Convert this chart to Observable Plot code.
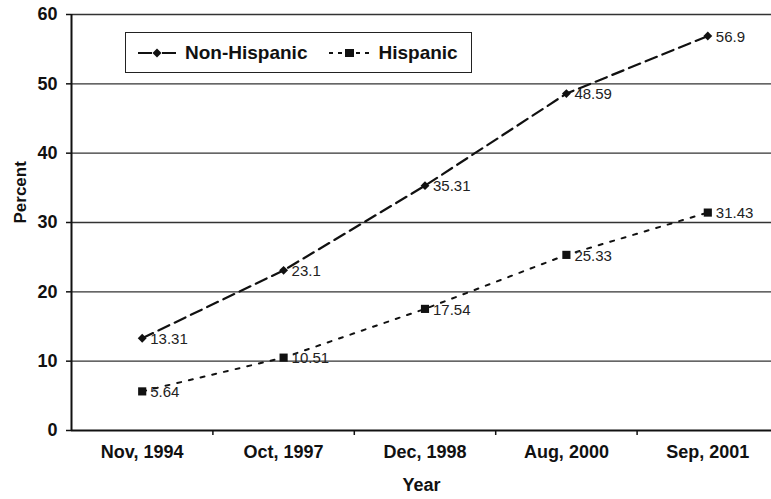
<!DOCTYPE html>
<html><head><meta charset="utf-8">
<script src="https://cdn.jsdelivr.net/npm/d3@7"></script>
<script src="https://cdn.jsdelivr.net/npm/@observablehq/plot@0.6"></script>
<style>
body{margin:0;background:#fff;font-family:"Liberation Sans",Arial,sans-serif;}
#wrap{position:relative;width:771px;height:499px;overflow:hidden;}
#legend{position:absolute;left:125px;top:32px;width:345px;height:39px;border:1.5px solid #222;background:#fff;display:flex;align-items:center;font-weight:bold;font-size:19px;color:#111;}
#legend .item{display:flex;align-items:center;}
#legend svg{display:block;}
</style>
</head><body>
<div id="wrap"></div>
<script>
const categories = ["Nov, 1994", "Oct, 1997", "Dec, 1998", "Aug, 2000", "Sep, 2001"];
const nonHispanic = [13.31, 23.1, 35.31, 48.59, 56.9];
const hispanic = [5.64, 10.51, 17.54, 25.33, 31.43];
const seriesNames = ["Non-Hispanic", "Hispanic"];
const yTicks = [0, 10, 20, 30, 40, 50, 60];

const rows = [];
categories.forEach((c, i) => {
  rows.push({cat: c, value: nonHispanic[i], series: seriesNames[0]});
  rows.push({cat: c, value: hispanic[i], series: seriesNames[1]});
});
const nh = rows.filter(d => d.series === seriesNames[0]);
const hs = rows.filter(d => d.series === seriesNames[1]);
const catPos = c => categories.indexOf(c) + 0.5;
const boundaries = d3.range(categories.length + 1);

const chart = Plot.plot({
  width: 771,
  height: 499,
  marginTop: 14,
  marginBottom: 69,
  marginLeft: 71,
  marginRight: 0,
  style: {fontFamily: "'Liberation Sans', Arial, sans-serif", background: "#fff", color: "#111", overflow: "visible"},
  x: {domain: [0, categories.length], range: [71, 778]},
  y: {domain: [0, 60]},
  marks: [
    Plot.ruleY(yTicks.filter(t => t > 0), {stroke: "#333", strokeWidth: 1.4, x1: 0, x2: categories.length}),
    Plot.axisY({ticks: yTicks, tickSize: 5, tickPadding: 9, label: null, fontSize: 18, fontWeight: "bold", stroke: "#111", strokeWidth: 1.5}),
    Plot.axisX({ticks: boundaries.slice(1), tickSize: 5, tickFormat: () => "", label: null, stroke: "#111", strokeWidth: 1.5}),
    Plot.axisX({ticks: categories.map(catPos), tickSize: 0, tickPadding: 15, tickFormat: v => categories[Math.round(v - 0.5)], label: null, fontSize: 18, fontWeight: "bold"}),
    Plot.ruleY([0], {stroke: "#111", strokeWidth: 2}),
    Plot.ruleX([0], {stroke: "#111", strokeWidth: 2}),
    Plot.line(nh, {x: d => catPos(d.cat), y: "value", stroke: "#111", strokeWidth: 2.2, strokeDasharray: "12,6"}),
    Plot.line(hs, {x: d => catPos(d.cat), y: "value", stroke: "#111", strokeWidth: 2, strokeDasharray: "4,8"}),
    Plot.dot(nh, {x: d => catPos(d.cat), y: "value", symbol: "diamond2", r: 4, fill: "#111", stroke: "none"}),
    Plot.dot(hs, {x: d => catPos(d.cat), y: "value", symbol: "square", r: 4.6, fill: "#111", stroke: "none"}),
    Plot.text(rows, {x: d => catPos(d.cat), y: "value", text: d => String(d.value), textAnchor: "start", dx: 8, dy: 1, fontSize: 15, fill: "#222"}),
    Plot.text(["Year"], {text: d => d, frameAnchor: "bottom", dy: 60, fontSize: 18, fontWeight: "bold", fill: "#111"}),
    Plot.text(["Percent"], {text: d => d, frameAnchor: "left", dx: -51, dy: 1, rotate: -90, fontSize: 17, fontWeight: "bold", fill: "#111"})
  ]
});

const wrap = document.getElementById("wrap");
wrap.appendChild(chart);

const legend = document.createElement("div");
legend.id = "legend";
legend.innerHTML =
  `<div class="item" style="margin-left:12px"><svg width="38" height="14"><line x1="0" y1="7" x2="14" y2="7" stroke="#111" stroke-width="2"/><line x1="24" y1="7" x2="38" y2="7" stroke="#111" stroke-width="2"/><path d="M19,2.5L23.5,7L19,11.5L14.5,7Z" fill="#111"/></svg><span style="margin-left:9px">${seriesNames[0]}</span></div>` +
  `<div class="item" style="margin-left:22px"><svg width="44" height="14"><line x1="0" y1="7" x2="44" y2="7" stroke="#111" stroke-width="2" stroke-dasharray="4,5"/><rect x="16" y="3" width="9" height="8" fill="#111"/></svg><span style="margin-left:5px">${seriesNames[1]}</span></div>`;
wrap.appendChild(legend);
</script>
</body></html>
